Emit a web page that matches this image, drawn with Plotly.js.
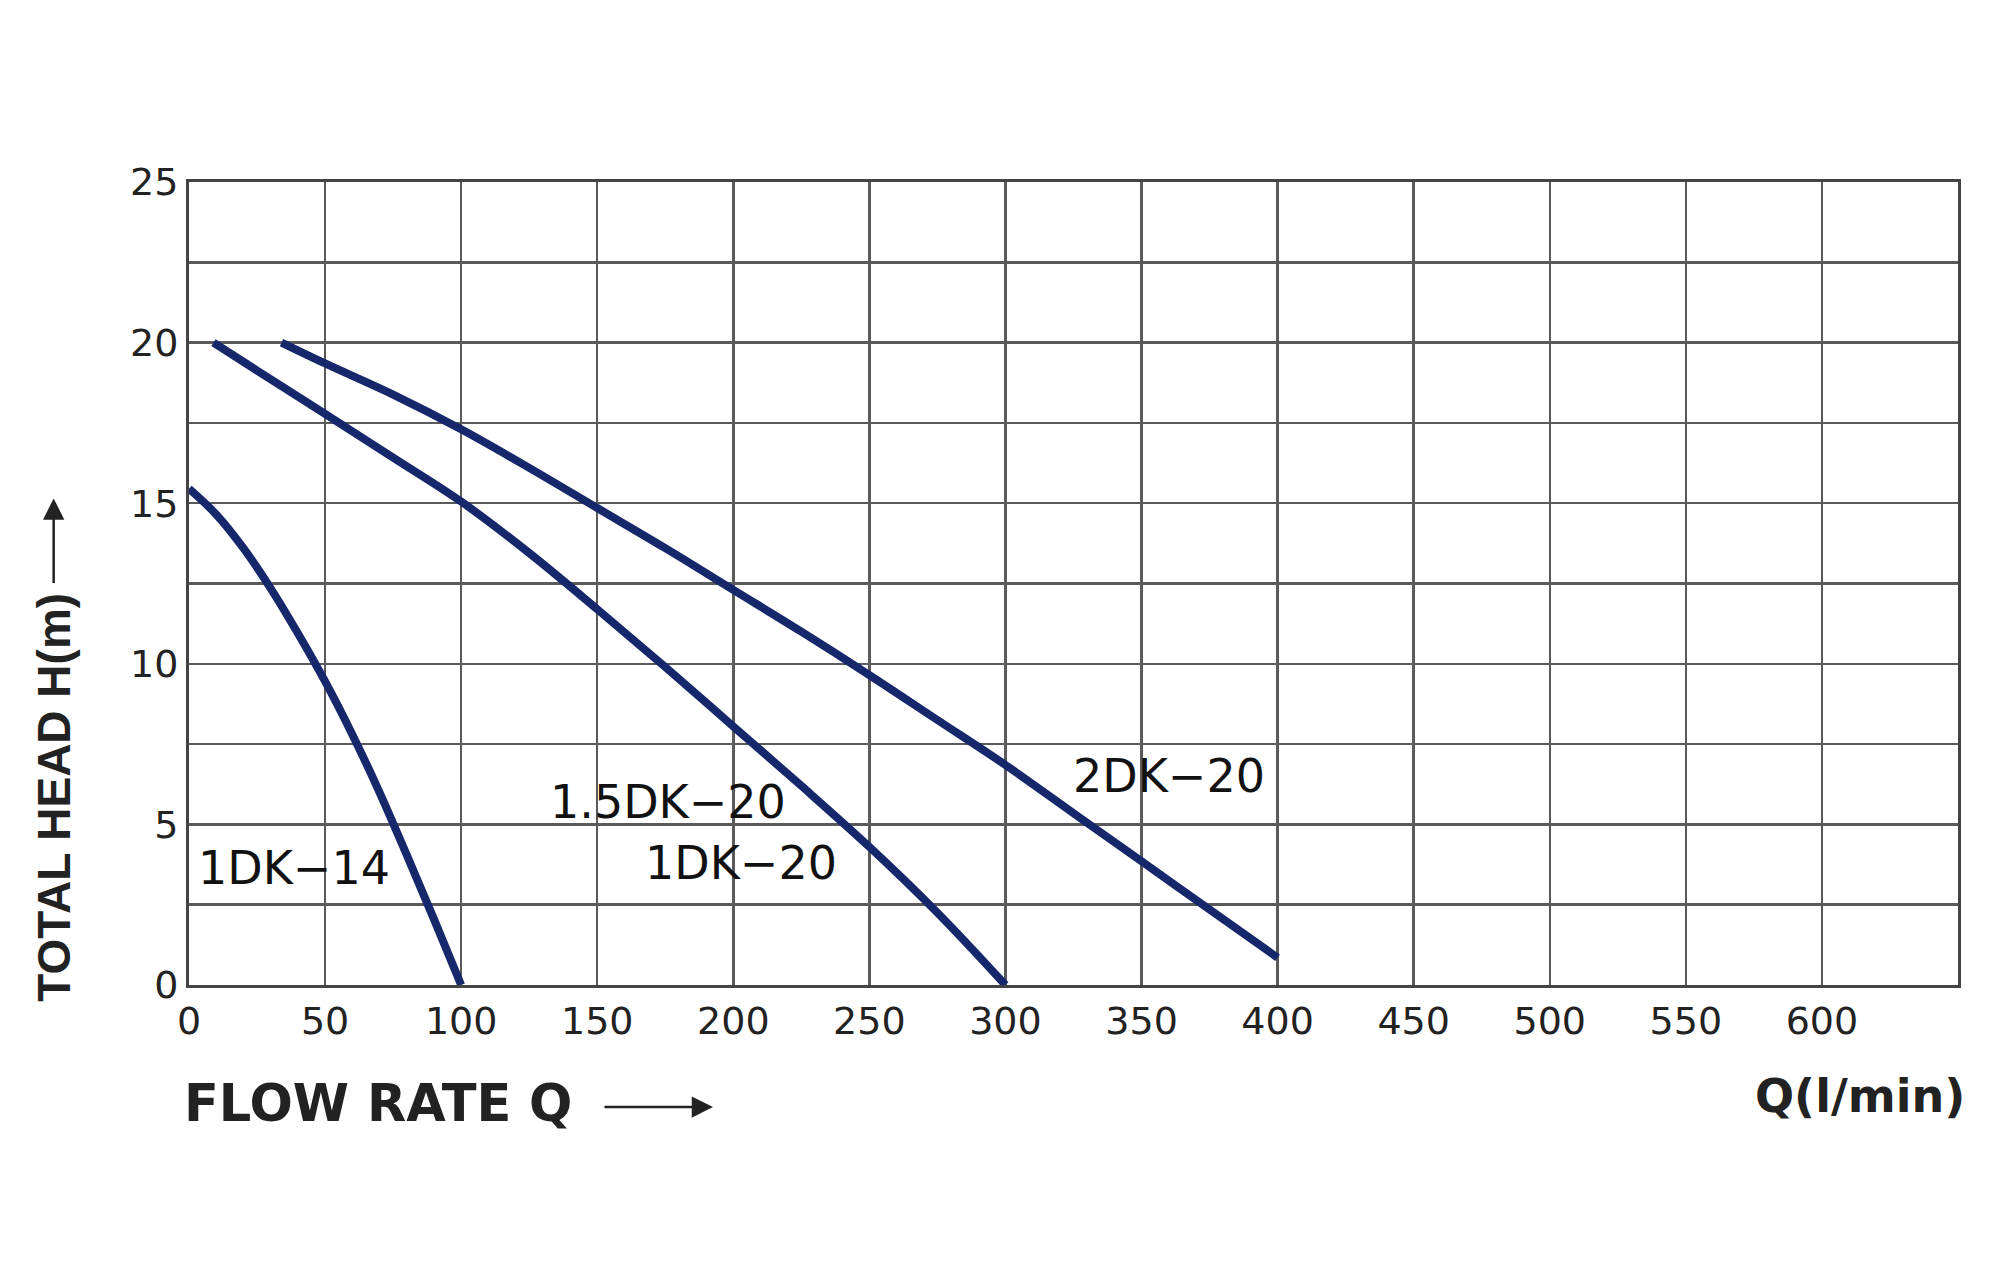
<!DOCTYPE html>
<html>
<head>
<meta charset="utf-8">
<script src="https://cdn.plot.ly/plotly-3.0.1.min.js"></script>
<style>
  html, body { margin: 0; padding: 0; background: #ffffff; }
  #chart { width: 2000px; height: 1276px; }
</style>
</head>
<body>
<div id="chart"></div>
<script>
// ---- data ----
const flow_1DK14 = [0, 10, 20, 30, 40, 50, 60, 70, 80, 90, 100];
const head_1DK14 = [15.45, 14.65, 13.6, 12.35, 10.95, 9.45, 7.8, 6.0, 4.05, 2.05, 0];

const flow_1DK20 = [9, 25, 50, 75, 100, 125, 150, 175, 200, 225, 250, 275, 300];
const head_1DK20 = [20, 19.13, 17.78, 16.42, 15.05, 13.45, 11.7, 9.9, 8.05, 6.2, 4.3, 2.25, 0];

const flow_2DK20 = [34, 50, 75, 100, 125, 150, 175, 200, 225, 250, 275, 300, 325, 350, 375, 400];
const head_2DK20 = [20, 19.35, 18.38, 17.3, 16.1, 14.85, 13.6, 12.3, 11.0, 9.65, 8.25, 6.85, 5.35, 3.85, 2.35, 0.85];

const xTickVals = [0, 50, 100, 150, 200, 250, 300, 350, 400, 450, 500, 550, 600];
const yTickVals = [0, 5, 10, 15, 20, 25];

const curveLabels = ['1DK\u221214', '1.5DK\u221220', '1DK\u221220', '2DK\u221220'];
const xTitle = 'FLOW RATE Q';
const yTitle = 'TOTAL HEAD H(m)';
const unitLabel = 'Q(l/min)';

// ---- styling ----
const curveColor = '#16286b';
const gridColor = '#5a5a5a';
const tickFont = { family: 'DejaVu Sans, Liberation Sans, Arial, sans-serif', size: 38, color: '#222' };
const labelFont = { family: 'DejaVu Sans, Liberation Sans, Arial, sans-serif', size: 46, color: '#111' };

const lineStyle = { color: curveColor, width: 8, shape: 'spline', smoothing: 1 };

const traces = [
  { x: flow_1DK14, y: head_1DK14, name: curveLabels[0], mode: 'lines', line: lineStyle, hoverinfo: 'x+y' },
  { x: flow_1DK20, y: head_1DK20, name: curveLabels[1] + ' / ' + curveLabels[2], mode: 'lines', line: lineStyle, hoverinfo: 'x+y' },
  { x: flow_2DK20, y: head_2DK20, name: curveLabels[3], mode: 'lines', line: lineStyle, hoverinfo: 'x+y' }
];

const annotations = [
  { x: 38.5, y: 3.65, xref: 'x', yref: 'y', text: curveLabels[0], showarrow: false, font: labelFont, xanchor: 'center', yanchor: 'middle' },
  { x: 176, y: 5.7, xref: 'x', yref: 'y', text: curveLabels[1], showarrow: false, font: labelFont, xanchor: 'center', yanchor: 'middle' },
  { x: 203, y: 3.8, xref: 'x', yref: 'y', text: curveLabels[2], showarrow: false, font: labelFont, xanchor: 'center', yanchor: 'middle' },
  { x: 360, y: 6.5, xref: 'x', yref: 'y', text: curveLabels[3], showarrow: false, font: labelFont, xanchor: 'center', yanchor: 'middle' },
  // x-axis title
  { x: -0.004, y: -0.148, xref: 'paper', yref: 'paper', text: '<b>' + xTitle + '</b>', showarrow: false,
    font: { family: 'DejaVu Sans, Liberation Sans, Arial, sans-serif', size: 51, color: '#222' }, xanchor: 'left', yanchor: 'middle' },
  // x-axis arrow
  { x: 0.2962, y: -0.152, xref: 'paper', yref: 'paper', text: '', showarrow: true, ax: -110, ay: 0,
    arrowhead: 2, arrowsize: 1.7, arrowwidth: 2.5, arrowcolor: '#222' },
  // unit label
  { x: 1.005, y: -0.138, xref: 'paper', yref: 'paper', text: '<b>' + unitLabel + '</b>', showarrow: false,
    font: { family: 'DejaVu Sans, Liberation Sans, Arial, sans-serif', size: 46, color: '#222' }, xanchor: 'right', yanchor: 'middle' },
  // y-axis title (rotated)
  { x: -0.0765, y: 0.234, xref: 'paper', yref: 'paper', text: '<b>' + yTitle + '</b>', showarrow: false, textangle: -90,
    font: { family: 'Liberation Sans, Arial, sans-serif', size: 46, color: '#222' }, xanchor: 'center', yanchor: 'middle' },
  // y-axis arrow
  { x: -0.0765, y: 0.606, xref: 'paper', yref: 'paper', text: '', showarrow: true, ax: 0, ay: 86,
    arrowhead: 2, arrowsize: 1.7, arrowwidth: 2.5, arrowcolor: '#222' }
];

const layout = {
  width: 2000,
  height: 1276,
  margin: { l: 189, r: 42, t: 182, b: 291 },
  paper_bgcolor: '#ffffff',
  plot_bgcolor: '#ffffff',
  showlegend: false,
  xaxis: {
    range: [0, 650],
    tickmode: 'array',
    tickvals: xTickVals,
    ticktext: xTickVals.map(String),
    showgrid: true, gridcolor: gridColor, gridwidth: 2.5,
    zeroline: false,
    showline: true, mirror: true, linecolor: '#444', linewidth: 3,
    ticks: '',
    tickfont: tickFont,
    fixedrange: true
  },
  yaxis: {
    range: [0, 25],
    tickmode: 'array',
    tickvals: yTickVals,
    ticktext: yTickVals.map(String),
    showgrid: true, gridcolor: gridColor, gridwidth: 2.5,
    minor: { dtick: 2.5, showgrid: true, gridcolor: gridColor, gridwidth: 2.5, ticks: '' },
    zeroline: false,
    showline: true, mirror: true, linecolor: '#444', linewidth: 3,
    ticks: '',
    tickfont: tickFont,
    fixedrange: true
  },
  annotations: annotations
};

Plotly.newPlot('chart', traces, layout, { displayModeBar: false, staticPlot: true });
</script>
</body>
</html>
